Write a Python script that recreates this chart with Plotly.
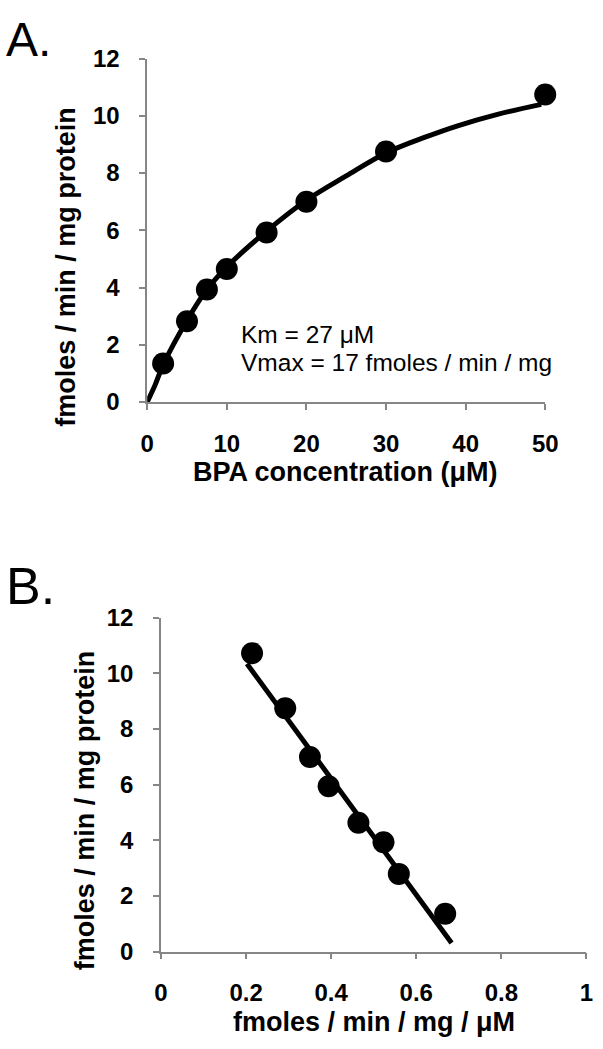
import plotly.graph_objects as go

# Panel A data (Michaelis-Menten)
bpa_conc = [2, 5, 7.5, 10, 15, 20, 30, 50]
rate_a = [1.35, 2.82, 3.93, 4.65, 5.92, 7.0, 8.75, 10.74]
# fitted curve
fit_x = [0, 1, 2, 5, 7.5, 10, 15, 20, 25, 30, 35, 39, 44, 49.5]
fit_y = [0, 0.6, 1.3, 2.85, 3.93, 4.72, 5.97, 7.05, 7.9, 8.7, 9.26, 9.65, 10.05, 10.4]

# Panel B data (Eadie-Hofstee)
ratio_b = [0.214, 0.292, 0.350, 0.394, 0.464, 0.523, 0.559, 0.668]
rate_b = [10.72, 8.74, 6.99, 5.94, 4.63, 3.93, 2.79, 1.36]
line_b_x = [0.202, 0.683]
line_b_y = [10.34, 0.31]

W, H = 603, 1049
FONT = "Liberation Sans, Arial, sans-serif"
AXC = "#868686"

fig = go.Figure()
fig.add_trace(go.Scatter(x=fit_x, y=fit_y, mode="lines", line=dict(color="black", width=5, shape="spline"),
                         xaxis="x", yaxis="y", cliponaxis=False, showlegend=False))
fig.add_trace(go.Scatter(x=bpa_conc, y=rate_a, mode="markers", marker=dict(color="black", size=22),
                         xaxis="x", yaxis="y", cliponaxis=False, showlegend=False))
fig.add_trace(go.Scatter(x=line_b_x, y=line_b_y, mode="lines", line=dict(color="black", width=5),
                         xaxis="x2", yaxis="y2", cliponaxis=False, showlegend=False))
fig.add_trace(go.Scatter(x=ratio_b, y=rate_b, mode="markers", marker=dict(color="black", size=22),
                         xaxis="x2", yaxis="y2", cliponaxis=False, showlegend=False))

def px2x(p):
    return p / W

def px2y(p):
    return 1 - p / H

axis_common = dict(showgrid=False, zeroline=False, showline=True, linecolor=AXC, linewidth=1.5,
                   ticks="outside", ticklen=6, tickcolor=AXC, tickwidth=1.5,
                   tickfont=dict(family=FONT, size=24, color="black", weight="bold"))

fig.update_layout(
    width=W, height=H, margin=dict(l=0, r=0, t=0, b=0),
    paper_bgcolor="white", plot_bgcolor="white",
    xaxis=dict(domain=[px2x(145), px2x(556.7)], range=[0, 50], tickvals=[0, 10, 20, 30, 40, 50],
               anchor="y", ticklabelstandoff=13, **axis_common),
    yaxis=dict(domain=[px2y(398.3), px2y(45.7)], range=[0, 12], tickvals=[0, 2, 4, 6, 8, 10, 12],
               anchor="x", ticklabelstandoff=15, **axis_common),
    xaxis2=dict(domain=[px2x(159.3), px2x(599.3)], range=[0, 1], tickvals=[0, 0.2, 0.4, 0.6, 0.8, 1],
                ticktext=["0", "0.2", "0.4", "0.6", "0.8", "1"],
                anchor="y2", ticklabelstandoff=13, **axis_common),
    yaxis2=dict(domain=[px2y(962.3), px2y(619.5)], range=[0, 12], tickvals=[0, 2, 4, 6, 8, 10, 12],
                anchor="x2", ticklabelstandoff=15, **axis_common),
)

ann = []
def text(t, x, y, size, bold=False, angle=0, xanchor="center"):
    ann.append(dict(text=t, xref="paper", yref="paper", x=px2x(x), y=px2y(y), showarrow=False,
                    xanchor=xanchor, yanchor="middle", textangle=angle,
                    font=dict(family=FONT, size=size, color="black", weight="bold" if bold else "normal")))

text("A.", -3, 26, 48, xanchor="left")
text("B.", -3, 587, 52, xanchor="left")
text("fmoles / min / mg protein", 61.5, 259, 27, bold=True, angle=-90)
text("BPA concentration (μM)", 350, 470, 27, bold=True)
text("fmoles / min / mg protein", 81, 817, 27, bold=True, angle=-90)
text("fmoles / min / mg / μM", 380, 1035, 27, bold=True)
text("Km = 27 μM", 240, 329, 24.5, xanchor="left")
text("Vmax = 17 fmoles / min / mg", 240, 358, 24.5, xanchor="left")
fig.update_layout(annotations=ann)

fig.write_html("out.html", config={"displayModeBar": False},
               post_script="document.body.style.margin='0';document.body.style.overflow='hidden';")
